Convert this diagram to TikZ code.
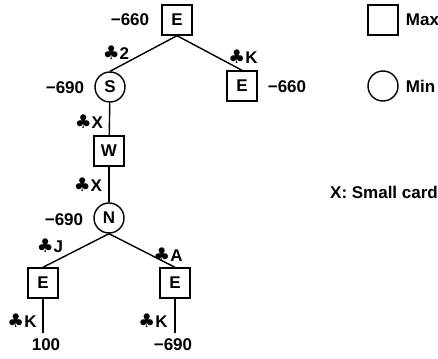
\documentclass[tikz,border=0pt]{standalone}
\usepackage{fontspec}
\setmainfont{Liberation Sans}
\newfontfamily\suitfont{DejaVu Sans}
\newcommand{\clb}{{\suitfont\fontsize{16}{16}\selectfont ♣}}
\usetikzlibrary{positioning}

\begin{document}
\begin{tikzpicture}[
  x=0.03cm,y=-0.03cm,
  maxnode/.style={draw, line width=1.2pt, minimum size=0.9cm, inner sep=0pt, font=\fontsize{14.5}{16}\selectfont\bfseries},
  minnode/.style={draw, circle, line width=1.2pt, minimum size=0.9cm, inner sep=0pt, font=\fontsize{14.5}{16}\selectfont\bfseries},
  lbl/.style={inner sep=1pt, font=\fontsize{14.5}{16}\selectfont\bfseries},
  edge/.style={line width=1.2pt}
]
\useasboundingbox (0,0) rectangle (438,359);
% tree
\node[maxnode] (eTop) at (177,20) {E};
\node[minnode] (s) at (110,87) {S};
\node[maxnode] (eRight) at (242,86) {E};
\node[maxnode] (w) at (109,151) {W};
\node[minnode] (n) at (109,218) {N};
\node[maxnode] (eLeft) at (43,283) {E};
\node[maxnode] (eMid) at (175,283) {E};
\coordinate (leafL) at (43,333);
\coordinate (leafR) at (175,333);
\draw[edge] (eTop.south) -- (s.north); \draw[edge] (eTop.south) -- (eRight.north); \draw[edge] (s) -- (w);
\draw[edge] (w) -- (n); \draw[edge] (n.south) -- (eLeft.north); \draw[edge] (n.south) -- (eMid.north);
\draw[edge] (eLeft) -- (leafL); \draw[edge] (eMid) -- (leafR);
% values and cards
\node[lbl] (vTop) at (130,20) {−660};
\node[lbl] (vS) at (65,88) {−690};
\node[lbl] (vRight) at (287,87) {−660};
\node[lbl] (vN) at (64,220) {−690};
\node[lbl] (vLeaf1) at (46,345) {100};
\node[lbl] (vLeaf2) at (173,345) {−690};
\node[lbl] (c2) at (116,53) {\clb 2};
\node[lbl] (cK1) at (243,57) {\clb K};
\node[lbl] (cX1) at (89,122) {\clb X};
\node[lbl] (cX2) at (88,185) {\clb X};
\node[lbl] (cJ) at (50,246) {\clb J};
\node[lbl] (cA) at (168,255) {\clb A};
\node[lbl] (cK2) at (22,321) {\clb K};
\node[lbl] (cK3) at (153,321) {\clb K};
% legend
\node[maxnode] (keyMax) at (383,20) {};
\node[lbl, right=5pt of keyMax] (txtMax) {Max};
\node[minnode] (keyMin) at (383,86) {};
\node[lbl, right=5pt of keyMin] (txtMin) {Min};
\node[lbl] (keyX) at (384,192) {X: Small card};
\end{tikzpicture}
\end{document}
